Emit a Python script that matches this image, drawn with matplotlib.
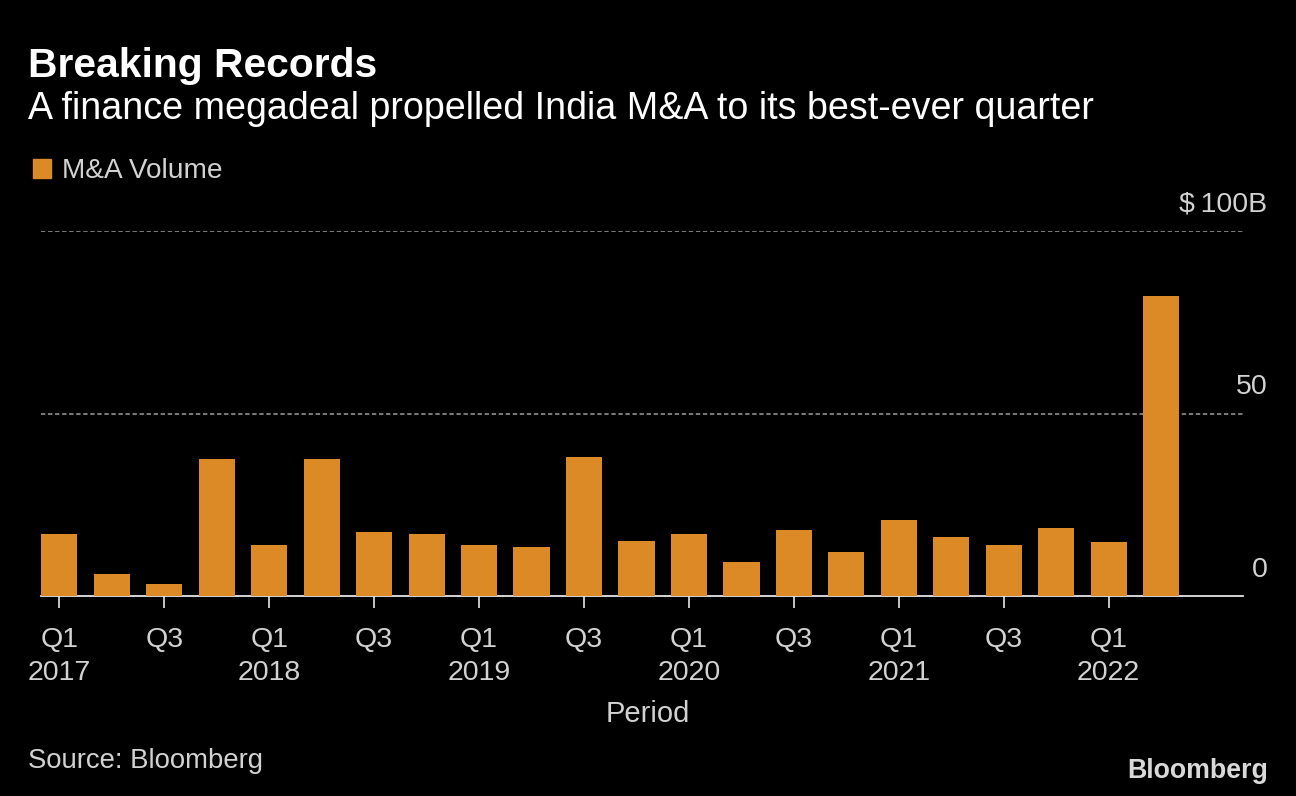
import numpy as np
import matplotlib
matplotlib.use("Agg")
import matplotlib.pyplot as plt

quarters = ["Q1", "", "Q3", "", "Q1", "", "Q3", "", "Q1", "", "Q3", "", "Q1", "", "Q3", "",
            "Q1", "", "Q3", "", "Q1", ""]
years = {0: "2017", 4: "2018", 8: "2019", 12: "2020", 16: "2021", 20: "2022"}
volume = [17, 6, 3.3, 37.5, 14, 37.5, 17.5, 17, 14, 13.5, 38, 15.2, 17, 9.2, 18,
          12, 20.8, 16.3, 14, 18.6, 14.7, 82.2]
y_ticks = [0, 50, 100]
y_labels = ["0", "50", "$\u2009100B"]

ORANGE = "#db8a25"
GREY = "#d2d2d2"
NARROW = ["Liberation Sans Narrow", "Liberation Sans", "DejaVu Sans"]

plt.rcParams["font.family"] = NARROW

fig = plt.figure(figsize=(12.96, 7.96), dpi=100, facecolor="black")
ax = fig.add_axes([41 / 1296, 1 - 596 / 796, (1243 - 41) / 1296, 365 / 796], facecolor="black")

x = np.arange(len(volume))
ax.bar(x, volume, width=0.69, color=ORANGE, zorder=3)

ax.set_xlim(-0.35, 22.56)
ax.set_ylim(0, 100)

for s in ["top", "left", "right"]:
    ax.spines[s].set_visible(False)
ax.spines["bottom"].set_color("#e6e6e6")
ax.spines["bottom"].set_linewidth(1.3)

for t in y_ticks[1:]:
    ax.axhline(t, color="#858585", linestyle=(0, (2.4, 1.5)), linewidth=1.3, zorder=1)

ax.set_yticks([])
for t, lab in zip(y_ticks, y_labels):
    ax.annotate(lab, xy=(1, t), xycoords=("axes fraction", "data"), xytext=(17.5, 19),
                textcoords="offset points", ha="right", va="center", color=GREY, fontsize=20.5)

ticks = [i for i, q in enumerate(quarters) if q]
labels = []
for i in ticks:
    labels.append(quarters[i] + ("\n" + years[i] if i in years else ""))
ax.set_xticks(ticks)
ax.set_xticklabels(labels, color=GREY, fontsize=20.5, linespacing=1.39, va="top")
ax.tick_params(axis="x", length=8.5, width=1.2, color="#e6e6e6", pad=13.5)

fig.text(648 / 1296, 1 - 714 / 796, "Period", color=GREY, fontsize=21, ha="center", va="center")

fig.text(28 / 1296, 1 - 66 / 796, "Breaking Records", color="white", fontsize=29.3, fontweight="bold",
         family=["Liberation Sans"], ha="left", va="center")
fig.text(28 / 1296, 1 - 109 / 796, "A finance megadeal propelled India M&A to its best-ever quarter",
         color="white", fontsize=27.1, ha="left", va="center")

fig.add_artist(plt.Rectangle((33 / 1296, 1 - 178 / 796), 18 / 1296, 19 / 796,
                             transform=fig.transFigure, color=ORANGE))
fig.text(62 / 1296, 1 - 171 / 796, "M&A Volume", color=GREY, fontsize=20.2, ha="left", va="center")

fig.text(28 / 1296, 1 - 761 / 796, "Source: Bloomberg", color=GREY, fontsize=19.8, ha="left", va="center")
fig.text(1268 / 1296, 1 - 771 / 796, "Bloomberg", color="#d9d9d9", fontsize=19.3, fontweight="bold",
         family=["Liberation Sans"], ha="right", va="center")

fig.savefig("out.png", dpi=100, facecolor="black")
